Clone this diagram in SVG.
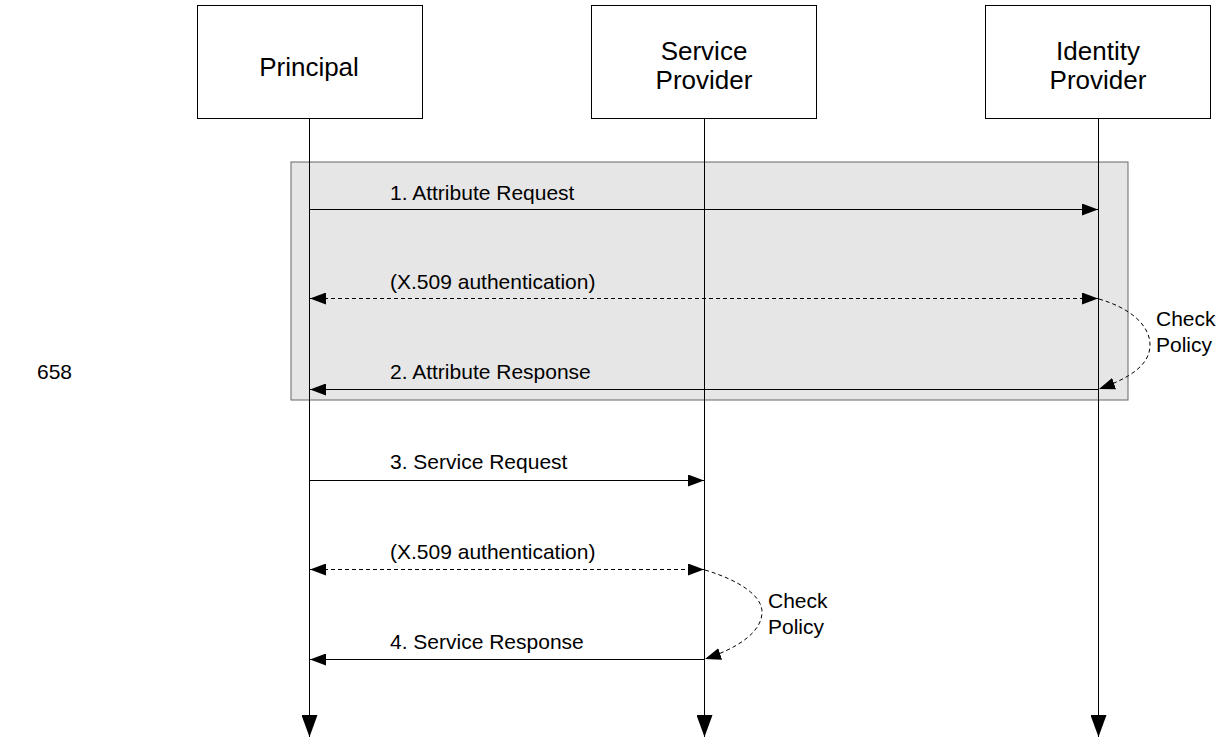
<svg xmlns="http://www.w3.org/2000/svg" width="1218" height="738" viewBox="0 0 1218 738">
<style>
text{font-family:"Liberation Sans",Arial,sans-serif;fill:#000}
.box{fill:#fff;stroke:#000;stroke-width:1}
.bl{font-size:26px;text-anchor:middle}
.ml{font-size:21px}
.ln{stroke:#000;stroke-width:1;fill:none}
.dash{stroke-dasharray:4,3}
</style>
<defs>
<marker id="ah" viewBox="0 0 16 12" refX="16" refY="6" markerWidth="16" markerHeight="12" markerUnits="userSpaceOnUse" orient="auto-start-reverse">
<path d="M0,0 L16,6 L0,12 Z" fill="#000"/>
</marker>
<marker id="lh" viewBox="0 0 22 16" refX="22" refY="8" markerWidth="22" markerHeight="16" markerUnits="userSpaceOnUse" orient="auto">
<path d="M0,0 L22,8 L0,16 Z" fill="#000"/>
</marker>
</defs>
<rect x="291" y="162" width="837" height="238" fill="#e6e6e6" stroke="#666" stroke-width="1"/>
<g id="principal">
<rect class="box" x="197.5" y="5.5" width="225" height="113"/>
<text class="bl" x="309" y="76">Principal</text>
</g>
<g id="sp">
<rect class="box" x="591.5" y="5.5" width="225" height="113"/>
<text class="bl" x="704" y="60">Service</text>
<text class="bl" x="704" y="89">Provider</text>
</g>
<g id="idp">
<rect class="box" x="985.5" y="5.5" width="225" height="113"/>
<text class="bl" x="1098" y="60">Identity</text>
<text class="bl" x="1098" y="89">Provider</text>
</g>
<g id="connectors">
<line class="ln" x1="309.5" y1="119" x2="309.5" y2="737" marker-end="url(#lh)"/>
<line class="ln" x1="704.5" y1="119" x2="704.5" y2="737" marker-end="url(#lh)"/>
<line class="ln" x1="1098.5" y1="119" x2="1098.5" y2="737" marker-end="url(#lh)"/>
<line class="ln" x1="310" y1="209.5" x2="1098" y2="209.5" marker-end="url(#ah)"/>
<line class="ln dash" x1="310" y1="298.5" x2="1098" y2="298.5" marker-start="url(#ah)" marker-end="url(#ah)"/>
<line class="ln" x1="1098" y1="389.5" x2="310" y2="389.5" marker-end="url(#ah)"/>
<path class="ln dash" d="M1099,299 C1130,308 1150,325 1150,345 C1150,365 1130,378 1099,389" marker-end="url(#ah)"/>
<line class="ln" x1="310" y1="480.5" x2="704" y2="480.5" marker-end="url(#ah)"/>
<line class="ln dash" x1="310" y1="569.5" x2="704" y2="569.5" marker-start="url(#ah)" marker-end="url(#ah)"/>
<line class="ln" x1="704" y1="659.5" x2="310" y2="659.5" marker-end="url(#ah)"/>
<path class="ln dash" d="M705,570 C738,580 762,595 762,612 C762,632 738,648 705,659" marker-end="url(#ah)"/>
</g>
<g id="labels">
<text class="ml" x="390" y="200">1. Attribute Request</text>
<text class="ml" x="390" y="289">(X.509 authentication)</text>
<text class="ml" x="390" y="379">2. Attribute Response</text>
<text class="ml" x="1156" y="326">Check</text>
<text class="ml" x="1156" y="352">Policy</text>
<text class="ml" x="37" y="379">658</text>
<text class="ml" x="390" y="469">3. Service Request</text>
<text class="ml" x="390" y="559">(X.509 authentication)</text>
<text class="ml" x="390" y="649">4. Service Response</text>
<text class="ml" x="768" y="608">Check</text>
<text class="ml" x="768" y="634">Policy</text>
</g>
</svg>
